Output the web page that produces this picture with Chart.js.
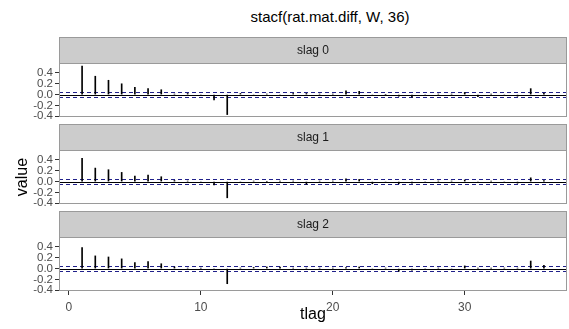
<!DOCTYPE html>
<html>
<head>
<meta charset="utf-8">
<script src="https://cdn.jsdelivr.net/npm/chart.js@4.4.1/dist/chart.umd.min.js"></script>
<style>
  body { margin: 0; background: #fff; }
  #wrap { position: relative; width: 569px; height: 329px; font-family: "Liberation Sans", Arial, sans-serif; }
  #title { position: absolute; left: 130px; width: 400px; top: 8px; text-align: center; font-size: 15px; color: #000; }
  canvas { position: absolute; left: 0; }
</style>
</head>
<body>
<div id="wrap">
  <div id="title">stacf(rat.mat.diff, W, 36)</div>
  <canvas id="p0"></canvas>
  <canvas id="p1"></canvas>
  <canvas id="p2"></canvas>
</div>
<script>
// time lags on the x axis
const tlag = [1, 2, 3, 4, 5, 6, 7, 8, 9, 10, 11, 12, 13, 14, 15, 16, 17, 18,
              19, 20, 21, 22, 23, 24, 25, 26, 27, 28, 29, 30, 31, 32, 33, 34, 35, 36];

// space-time autocorrelation, one series per spatial lag
const slag0 = [0.53, 0.34, 0.265, 0.20, 0.135, 0.11, 0.09, 0.01, 0.02, -0.02, -0.10, -0.37,
               0.02, -0.01, 0.01, -0.02, 0.02, 0.02, 0.01, 0.01, 0.07, 0.06, -0.02, 0.0,
               -0.03, -0.05, -0.02, 0.01, 0.01, 0.04, -0.04, 0.01, -0.01, -0.03, 0.11, 0.03];
const slag1 = [0.43, 0.25, 0.22, 0.17, 0.10, 0.12, 0.09, 0.02, 0.01, -0.02, -0.06, -0.30,
               -0.02, 0.01, 0.0, 0.01, 0.01, -0.05, 0.01, 0.01, 0.05, 0.04, -0.04, -0.01,
               -0.04, -0.03, -0.02, 0.01, 0.01, 0.03, -0.02, 0.01, -0.01, -0.03, 0.07, 0.02];
const slag2 = [0.39, 0.235, 0.215, 0.18, 0.11, 0.13, 0.09, 0.03, 0.01, 0.01, -0.02, -0.28,
               0.01, 0.02, 0.03, 0.03, 0.01, 0.01, 0.01, 0.01, 0.02, 0.03, -0.02, 0.01,
               -0.05, -0.03, -0.02, 0.01, -0.02, 0.05, 0.01, 0.01, 0.01, 0.01, 0.14, 0.06];

const panelNames = ['slag 0', 'slag 1', 'slag 2'];
const panelSeries = [slag0, slag1, slag2];

const yTicks = [-0.4, -0.2, 0.0, 0.2, 0.4];
const xTicks = [0, 10, 20, 30];
const bandLimits = [-0.05, 0.05];   // dashed significance bounds
const yRange = [-0.415, 0.585];
const xRange = [-0.75, 37.75];

// layout of the facets (px)
const stripTops = [37, 124, 211];
const STRIP_H = 26, PLOT_H = 54, AXIS_W = 59;

const panelDeco = {
  id: 'panelDeco',
  beforeDatasetsDraw(chart) {
    const { ctx, chartArea: a, scales: { y } } = chart;
    ctx.save();
    ctx.lineWidth = 1;
    ctx.strokeStyle = '#20208a';
    ctx.setLineDash([4, 3]);
    bandLimits.forEach(v => {
      const py = Math.round(y.getPixelForValue(v)) + 0.5;
      ctx.beginPath(); ctx.moveTo(a.left, py); ctx.lineTo(a.right, py); ctx.stroke();
    });
    ctx.setLineDash([]);
    ctx.strokeStyle = '#000';
    const p0 = Math.round(y.getPixelForValue(0)) + 0.5;
    ctx.beginPath(); ctx.moveTo(a.left, p0); ctx.lineTo(a.right, p0); ctx.stroke();
    ctx.restore();
  },
  afterDraw(chart, args, opts) {
    const { ctx, chartArea: a } = chart;
    ctx.save();
    ctx.lineWidth = 1;
    // strip
    ctx.fillStyle = '#cccccc';
    ctx.fillRect(a.left, a.top - STRIP_H, a.right - a.left, STRIP_H);
    ctx.strokeStyle = '#9a9a9a';
    ctx.strokeRect(a.left + 0.5, a.top - STRIP_H + 0.5, a.right - a.left - 1, STRIP_H);
    // panel border
    ctx.strokeRect(a.left + 0.5, a.top + 0.5, a.right - a.left - 1, a.bottom - a.top - 1);
    ctx.fillStyle = '#1a1a1a';
    ctx.font = '12px "Liberation Sans", Arial, sans-serif';
    ctx.textAlign = 'center';
    ctx.textBaseline = 'middle';
    ctx.fillText(opts.label, (a.left + a.right) / 2, a.top - STRIP_H / 2 + 1);
    ctx.restore();
  }
};

function makePanel(i) {
  const last = i === panelNames.length - 1;
  const canvas = document.getElementById('p' + i);
  const h = last ? 329 - stripTops[i] : STRIP_H + PLOT_H + 10;
  canvas.width = 569; canvas.height = h;
  canvas.style.top = stripTops[i] + 'px';
  canvas.style.width = '569px'; canvas.style.height = h + 'px';

  return new Chart(canvas, {
    type: 'bar',
    data: {
      datasets: [{
        data: tlag.map((t, k) => ({ x: t, y: panelSeries[i][k] })),
        backgroundColor: '#000',
        borderWidth: 0,
        barThickness: 1
      }]
    },
    options: {
      responsive: false,
      animation: false,
      layout: { padding: { top: STRIP_H, bottom: last ? 0 : 10, left: 0, right: 2 } },
      plugins: {
        legend: { display: false },
        tooltip: { enabled: false },
        panelDeco: { label: panelNames[i] }
      },
      scales: {
        x: {
          type: 'linear',
          display: last,
          offset: false,
          min: xRange[0], max: xRange[1],
          afterBuildTicks: s => { s.ticks = xTicks.map(v => ({ value: v })); },
          afterFit: s => { if (last) s.height = 329 - (stripTops[i] + STRIP_H + PLOT_H); },
          border: { display: false },
          grid: { drawOnChartArea: false, drawTicks: true, tickLength: 4, color: '#333', offset: false },
          ticks: { color: '#4d4d4d', font: { size: 12, family: '"Liberation Sans", Arial, sans-serif' }, padding: 5, maxRotation: 0 },
          title: {
            display: true, text: 'tlag', color: '#000',
            font: { size: 16, family: '"Liberation Sans", Arial, sans-serif' },
            padding: { top: 0, bottom: 5 }
          }
        },
        y: {
          min: yRange[0], max: yRange[1],
          afterBuildTicks: s => { s.ticks = yTicks.map(v => ({ value: v })); },
          afterFit: s => { s.width = AXIS_W; },
          border: { display: false },
          grid: { drawOnChartArea: false, drawTicks: true, tickLength: 4, color: '#333' },
          ticks: {
            color: '#4d4d4d', autoSkip: false, padding: 2,
            font: { size: 11.5, family: '"Liberation Sans", Arial, sans-serif' },
            callback: v => v.toFixed(1)
          },
          title: {
            display: i === 1, text: 'value', color: '#000',
            font: { size: 16, family: '"Liberation Sans", Arial, sans-serif' },
            padding: { top: 13, bottom: 0 }
          }
        }
      }
    },
    plugins: [panelDeco]
  });
}

panelNames.forEach((_, i) => makePanel(i));
</script>
</body>
</html>
